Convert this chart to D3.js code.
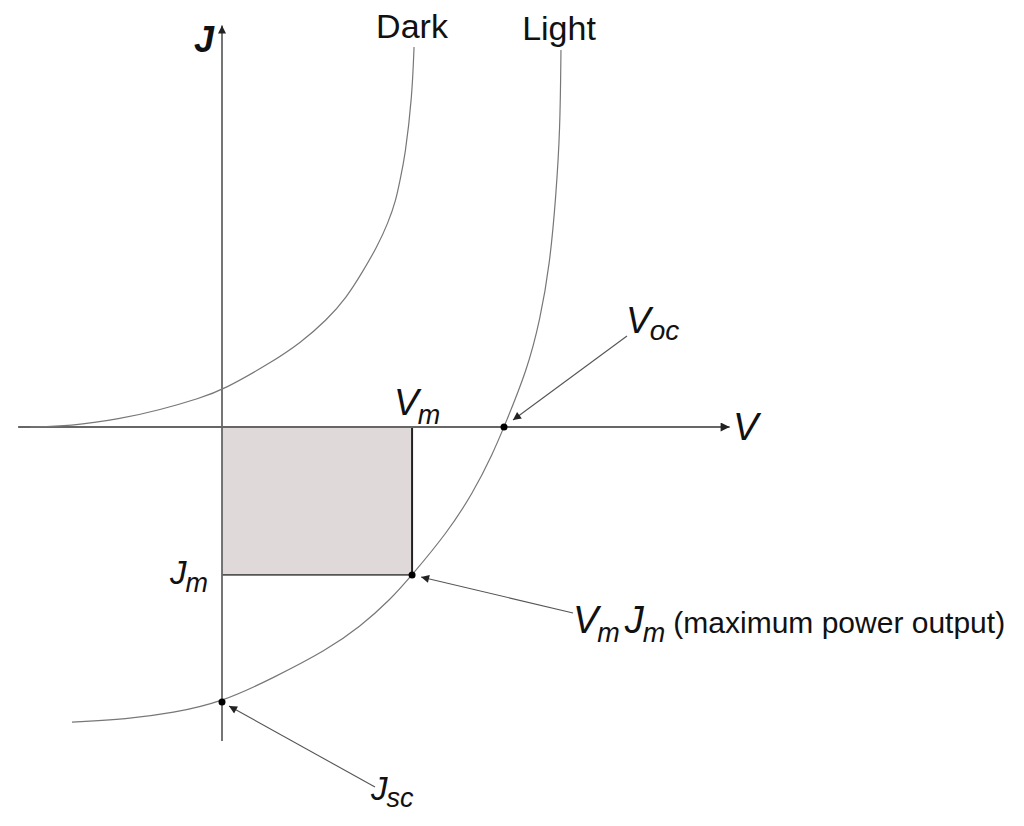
<!DOCTYPE html>
<html>
<head>
<meta charset="utf-8">
<script src="https://cdn.jsdelivr.net/npm/d3@7"></script>
<style>
  body { margin: 0; background: #fff; }
  text { font-family: "Liberation Sans", Arial, sans-serif; fill: #111; }
</style>
</head>
<body>
<div id="chart"></div>
<script>
// curve points (V in units of Voc, J in units of Jsc)
var darkV  = [-0.681, -0.539, -0.362, -0.220, -0.078, 0.004, 0.177, 0.277, 0.372, 0.443, 0.496, 0.550, 0.589, 0.617, 0.631, 0.649, 0.674, 0.681];
var darkJ  = [0, 0.003, 0.029, 0.062, 0.105, 0.135, 0.236, 0.305, 0.389, 0.473, 0.56, 0.655, 0.742, 0.825, 0.898, 0.982, 1.2, 1.382];
var lightV = [-0.532, -0.337, -0.174, 0, 0.181, 0.372, 0.489, 0.596, 0.674, 0.798, 0.890, 0.961, 1.0, 1.082, 1.128, 1.163, 1.184, 1.199, 1.202];
var lightJ = [-1.073, -1.062, -1.04, -1, -0.913, -0.811, -0.727, -0.629, -0.538, -0.385, -0.24, -0.095, 0, 0.207, 0.389, 0.596, 0.836, 1.08, 1.371];

var Vm = 0.674, Jm = -0.538, Voc = 1, Jsc = -1;
var vAxisRange = [-0.723, 1.80];
var jAxisRange = [-1.142, 1.46];

var width = 1024, height = 826;

var svg = d3.select("#chart").append("svg")
  .attr("width", width)
  .attr("height", height);

var x = d3.scaleLinear().domain([0, 1]).range([222, 504]);
var y = d3.scaleLinear().domain([0, -1]).range([427, 702]);

var defs = svg.append("defs");
defs.append("marker").attr("id", "axisHead")
  .attr("viewBox", "0 0 10 10").attr("refX", 10).attr("refY", 5)
  .attr("markerWidth", 14).attr("markerHeight", 9).attr("markerUnits", "userSpaceOnUse")
  .attr("orient", "auto")
  .append("path").attr("d", "M0,0 L10,5 L0,10 z").attr("fill", "#222");
defs.append("marker").attr("id", "smallHead")
  .attr("viewBox", "0 0 10 10").attr("refX", 10).attr("refY", 5)
  .attr("markerWidth", 12).attr("markerHeight", 8).attr("markerUnits", "userSpaceOnUse")
  .attr("orient", "auto")
  .append("path").attr("d", "M0,0 L10,5 L0,10 z").attr("fill", "#222");

// shaded power rectangle
svg.append("rect")
  .attr("x", x(0)).attr("y", y(0))
  .attr("width", x(Vm) - x(0)).attr("height", y(Jm) - y(0))
  .attr("fill", "#e0d9d9");
svg.append("line")
  .attr("x1", x(0)).attr("x2", x(Vm)).attr("y1", y(Jm)).attr("y2", y(Jm))
  .attr("stroke", "#555").attr("stroke-width", 1.8);
svg.append("line")
  .attr("x1", x(Vm)).attr("x2", x(Vm)).attr("y1", y(0)).attr("y2", y(Jm))
  .attr("stroke", "#222").attr("stroke-width", 2);

// axes
svg.append("line")
  .attr("x1", x(vAxisRange[0])).attr("x2", x(vAxisRange[1]))
  .attr("y1", y(0)).attr("y2", y(0))
  .attr("stroke", "#666").attr("stroke-width", 1.8)
  .attr("marker-end", "url(#axisHead)");
svg.append("line")
  .attr("x1", x(0)).attr("x2", x(0))
  .attr("y1", y(jAxisRange[0])).attr("y2", y(jAxisRange[1]))
  .attr("stroke", "#666").attr("stroke-width", 1.8)
  .attr("marker-end", "url(#smallHead)");

// curves (b-spline to smooth out reading noise)
var line = d3.line()
  .x(function(d) { return x(d[0]); })
  .y(function(d) { return y(d[1]); })
  .curve(d3.curveBasis);

var dark = darkV.map(function(v, i) { return [v, darkJ[i]]; });
var light = lightV.map(function(v, i) { return [v, lightJ[i]]; });

svg.append("path").datum(dark).attr("d", line)
  .attr("fill", "none").attr("stroke", "#777").attr("stroke-width", 1.2);
svg.append("path").datum(light).attr("d", line)
  .attr("fill", "none").attr("stroke", "#777").attr("stroke-width", 1.2);

// points
var pts = [[Voc, 0], [Vm, Jm], [0, Jsc]];
svg.selectAll(".pt").data(pts).enter().append("circle")
  .attr("cx", function(d) { return x(d[0]); })
  .attr("cy", function(d) { return y(d[1]); })
  .attr("r", 3.5).attr("fill", "#000");

// pointer arrows
var pointers = [
  {from: [627, 336], to: [x(Voc) + 9, y(0) - 7]},
  {from: [573, 613], to: [x(Vm) + 9, y(Jm) + 2]},
  {from: [375, 787], to: [x(0) + 7, y(Jsc) + 4]}
];
svg.selectAll(".ptr").data(pointers).enter().append("line")
  .attr("x1", function(d) { return d.from[0]; })
  .attr("y1", function(d) { return d.from[1]; })
  .attr("x2", function(d) { return d.to[0]; })
  .attr("y2", function(d) { return d.to[1]; })
  .attr("stroke", "#555").attr("stroke-width", 1.1)
  .attr("marker-end", "url(#smallHead)");

// labels
svg.append("text").attr("x", 412).attr("y", 38).attr("text-anchor", "middle")
  .style("font-size", "34px").text("Dark");
svg.append("text").attr("x", 559).attr("y", 40).attr("text-anchor", "middle")
  .style("font-size", "34px").text("Light");
svg.append("text").attr("x", 194).attr("y", 52)
  .style("font-size", "36px").style("font-weight", "bold").style("font-style", "italic").text("J");
svg.append("text").attr("x", 733).attr("y", 440)
  .style("font-size", "38px").style("font-style", "italic").text("V");

function subLabel(px, py, main, sub, size, subSize, drop) {
  var t = svg.append("text").attr("x", px).attr("y", py).style("font-size", size + "px");
  t.append("tspan").style("font-style", "italic").text(main);
  t.append("tspan").attr("dy", drop).attr("dx", -1).style("font-size", subSize + "px")
    .style("font-style", "italic").text(sub);
  return t;
}

subLabel(394, 415, "V", "m", 37, 27, 9);
subLabel(626, 333, "V", "oc", 37, 28, 7);
subLabel(170, 584, "J", "m", 33, 27, 8);
subLabel(371, 800, "J", "sc", 33, 27, 7);

var mp = svg.append("text").attr("x", 573).attr("y", 633).style("font-size", "38px");
mp.append("tspan").style("font-style", "italic").text("V");
mp.append("tspan").attr("dy", 9).attr("dx", -1).style("font-size", "27px").style("font-style", "italic").text("m");
mp.append("tspan").attr("dy", -9).attr("dx", 5).style("font-style", "italic").text("J");
mp.append("tspan").attr("dy", 9).attr("dx", -1).style("font-size", "27px").style("font-style", "italic").text("m");
mp.append("tspan").attr("dy", -9).attr("dx", 8).style("font-size", "30px").text("(maximum power output)");
</script>
</body>
</html>
